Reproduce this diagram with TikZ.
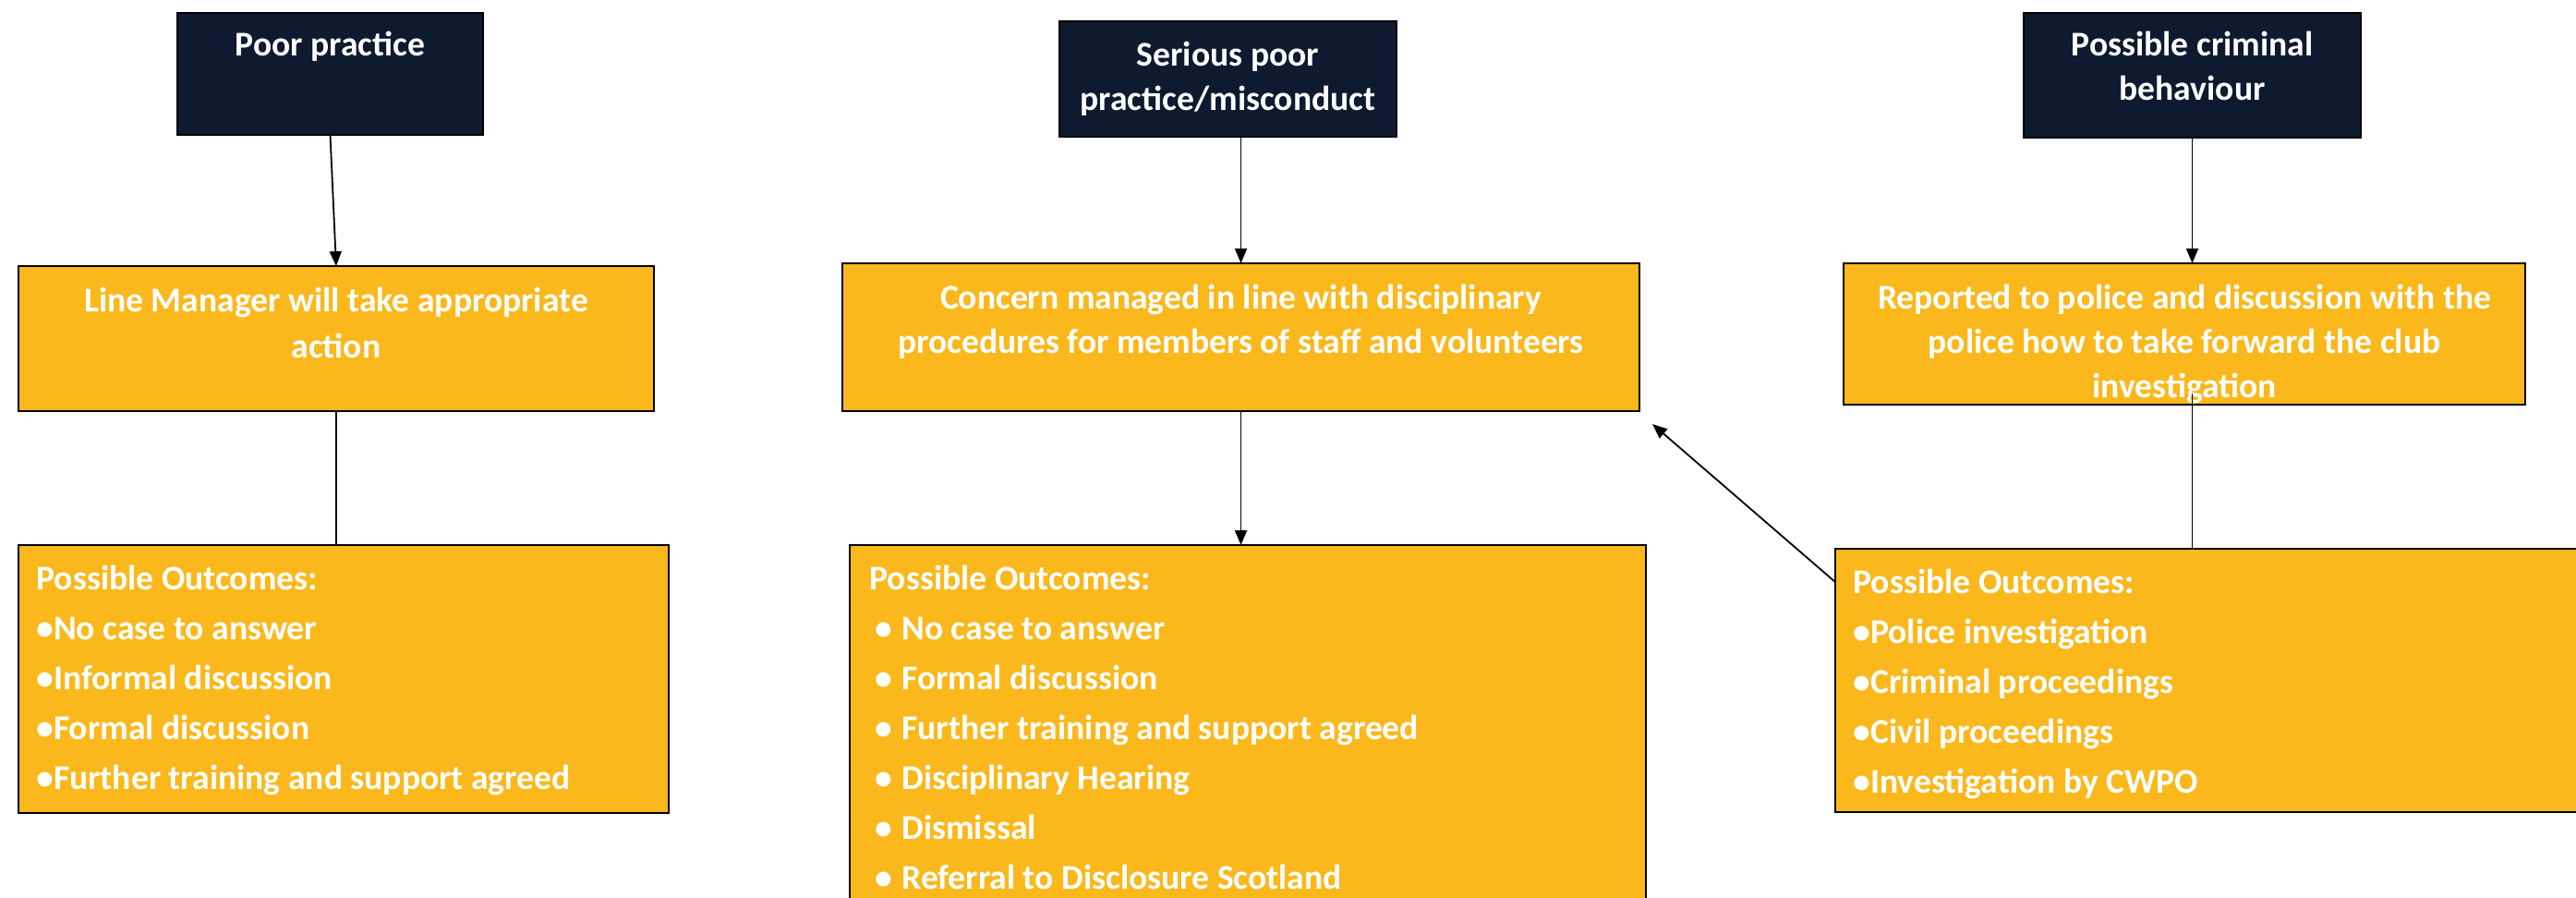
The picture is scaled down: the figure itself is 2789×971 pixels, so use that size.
\documentclass[tikz,border=0pt]{standalone}
\usepackage{fontspec}
\setmainfont{Carlito}
\usetikzlibrary{arrows.meta,calc}
\definecolor{navy}{HTML}{0E1A2F}
\definecolor{amber}{HTML}{FAB81C}
\begin{document}
\begin{tikzpicture}[x=0.5pt,y=-0.5pt,
  navybox/.style={draw=black, line width=1.2pt, fill=navy, inner sep=0pt, outer sep=0pt},
  amberbox/.style={draw=black, line width=1.2pt, fill=amber, inner sep=0pt, outer sep=0pt},
  headtext/.style={text=white, font=\fontsize{18.8}{24}\selectfont\bfseries, inner sep=0pt, align=center, anchor=base},
  listtext/.style={text=white, font=\fontsize{18.8}{27}\selectfont\bfseries, inner sep=0pt, align=left, anchor=base west},
  link/.style={draw=black, line width=0.9pt},
  arrowlink/.style={link, -{Triangle[length=8pt,width=6.5pt]}}
]
\path[use as bounding box, clip] (0,0) rectangle (2789,971);

% top row: categories of concern
\node[navybox, minimum width=165.5pt, minimum height=66pt] (pp) at (357.5,80) {};
\node[navybox, minimum width=182.5pt, minimum height=62.5pt] (ser) at (1329.5,85.5) {};
\node[navybox, minimum width=182.5pt, minimum height=67.5pt] (pc) at (2373.5,81.5) {};
% text nodes are placed by the baseline of their last line
\node[headtext] (pp-t) at (357.5,60) {Poor practice};
\node[headtext] (ser-t) at (1329.5,119) {Serious poor\\practice/misconduct};
\node[headtext] (pc-t) at (2373.5,108) {Possible criminal\\behaviour};

% middle row: how each concern is handled
\node[amberbox, minimum width=344pt, minimum height=78.5pt] (lm) at (364,366.5) {};
\node[amberbox, minimum width=431.5pt, minimum height=80pt] (cm) at (1343.5,365) {};
\node[amberbox, minimum width=369pt, minimum height=76.5pt] (rp) at (2365,361.5) {};
\node[headtext, font=\fontsize{18.8}{25}\selectfont\bfseries] (lm-t) at (364,387.5)
  {Line Manager will take appropriate\\action};
\node[headtext] (cm-t) at (1343.5,382)
  {Concern managed in line with disciplinary\\procedures for members of staff and volunteers};
\node[headtext] (rp-t) at (2365,430)
  {Reported to police and discussion with the\\police how to take forward the club\\investigation};

% bottom row: possible outcomes
\node[amberbox, minimum width=352pt, minimum height=145pt] (lo) at (372,735) {};
\node[amberbox, minimum width=431pt, minimum height=200pt] (mo) at (1351,790) {};
\node[amberbox, minimum width=411.5pt, minimum height=142.5pt] (ro) at (2398.5,736.5) {};
\node[listtext] (lo-t) at (39,854)
  {Possible Outcomes:\\
   •No case to answer\\
   •Informal discussion\\
   •Formal discussion\\
   •Further training and support agreed};
\node[listtext] (mo-t) at (941,962)
  {Possible Outcomes:\\
   \hspace*{3pt}\makebox[14.5pt][l]{•}No case to answer\\
   \hspace*{3pt}\makebox[14.5pt][l]{•}Formal discussion\\
   \hspace*{3pt}\makebox[14.5pt][l]{•}Further training and support agreed\\
   \hspace*{3pt}\makebox[14.5pt][l]{•}Disciplinary Hearing\\
   \hspace*{3pt}\makebox[14.5pt][l]{•}Dismissal\\
   \hspace*{3pt}\makebox[14.5pt][l]{•}Referral to Disclosure Scotland};
\node[listtext] (ro-t) at (2006,858)
  {Possible Outcomes:\\
   •Police investigation\\
   •Criminal proceedings\\
   •Civil proceedings\\
   •Investigation by CWPO};

% connectors
\draw[arrowlink] (pp.south) -- (lm.north);
\draw[link] (lm.south) -- (lm.south |- lo.north);
\draw[arrowlink] (cm.north |- ser.south) -- (cm.north);
\draw[arrowlink] (cm.south) -- (cm.south |- mo.north);
\draw[arrowlink] (pc.south) -- (pc.south |- rp.north);
\coordinate (rp-out) at ($(pc.south |- rp.south)+(0,-12)$);
\draw[link] (rp-out) -- (pc.south |- ro.north);
\coordinate (ro-in) at ($(ro.north west)+(0,36)$);
\coordinate (cm-tip) at ($(cm.south east)+(14,14)$);
\draw[arrowlink] (ro-in) -- (cm-tip);
\end{tikzpicture}
\end{document}
